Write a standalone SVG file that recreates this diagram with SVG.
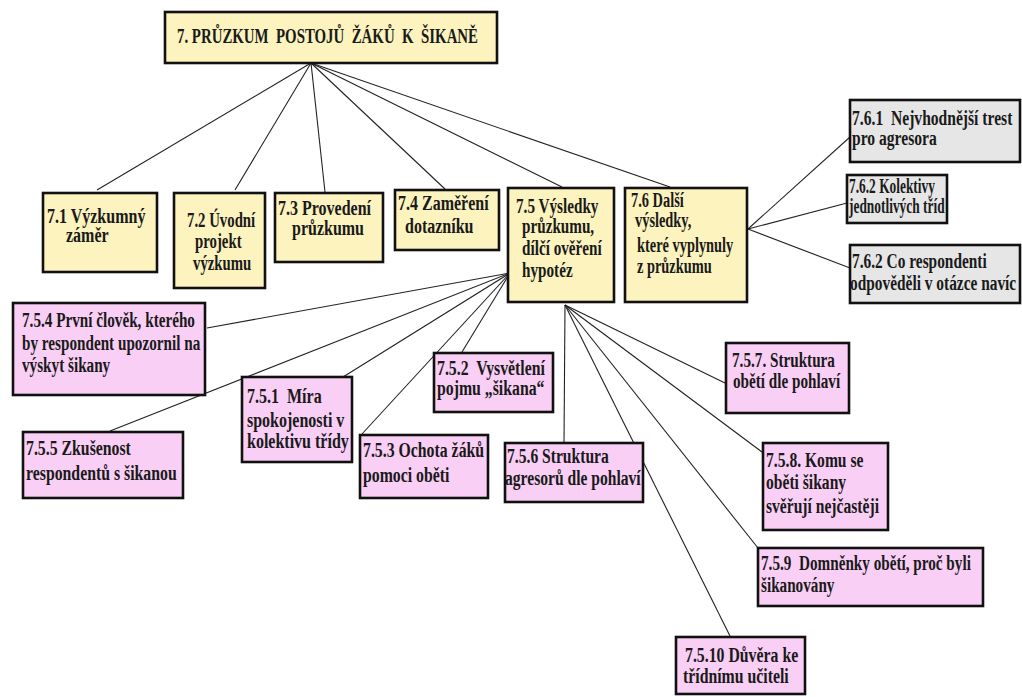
<svg xmlns="http://www.w3.org/2000/svg" width="1022" height="697" viewBox="0 0 1022 697">
<style>
.b{stroke:#111;stroke-width:2.6}
.y{fill:#FCF3BE}
.p{fill:#F9CFF6}
.g{fill:#E6E6E6}
text{font-family:"Liberation Serif","Times New Roman",serif;font-weight:bold;font-size:20px;fill:#1a1a1a}
#connectors line{stroke:#222;stroke-width:1.1}
</style>
<rect width="1022" height="697" fill="#fff"/>
<g id="connectors">
<line x1="311" y1="63" x2="97" y2="190"/>
<line x1="311" y1="63" x2="235" y2="190"/>
<line x1="311" y1="63" x2="325" y2="192"/>
<line x1="311" y1="63" x2="445" y2="189"/>
<line x1="311" y1="63" x2="562" y2="187"/>
<line x1="311" y1="63" x2="670" y2="187"/>
<line x1="748" y1="229" x2="850" y2="137"/>
<line x1="748" y1="229" x2="847" y2="203"/>
<line x1="748" y1="229" x2="850" y2="268"/>
<line x1="510" y1="273" x2="207" y2="328"/>
<line x1="510" y1="273" x2="110" y2="431"/>
<line x1="510" y1="273" x2="343" y2="377"/>
<line x1="510" y1="273" x2="362" y2="434"/>
<line x1="510" y1="273" x2="462" y2="352"/>
<line x1="565" y1="305" x2="564" y2="443"/>
<line x1="565" y1="305" x2="725" y2="383"/>
<line x1="565" y1="305" x2="762" y2="452"/>
<line x1="565" y1="305" x2="758" y2="548"/>
<line x1="565" y1="305" x2="730" y2="636"/>
</g>
<g id="n7"><rect class="b y" x="165" y="12" width="332" height="51"/><text x="177" y="43" font-size="21" textLength="301" lengthAdjust="spacingAndGlyphs" xml:space="preserve">7. PRŮZKUM  POSTOJŮ  ŽÁKŮ  K  ŠIKANĚ</text></g>
<g id="n71"><rect class="b y" x="43" y="193" width="114" height="79"/><text transform="translate(47 223) scale(.8 1)">7.1 Výzkumný</text><text transform="translate(66 242) scale(.8 1)">záměr</text></g>
<g id="n72"><rect class="b y" x="174" y="193" width="91" height="95"/><text transform="translate(187 227) scale(.74 1)">7.2 Úvodní</text><text transform="translate(195 248) scale(.74 1)">projekt</text><text transform="translate(193 270) scale(.74 1)">výzkumu</text></g>
<g id="n73"><rect class="b y" x="275" y="193" width="108" height="69"/><text transform="translate(278 215) scale(.8 1)">7.3 Provedení</text><text transform="translate(292 235) scale(.8 1)">průzkumu</text></g>
<g id="n74"><rect class="b y" x="395" y="190" width="104" height="60"/><text transform="translate(398 210) scale(.8 1)">7.4 Zaměření</text><text transform="translate(405 233) scale(.8 1)">dotazníku</text></g>
<g id="n75"><rect class="b y" x="508" y="188" width="106" height="114"/><text transform="translate(516 213) scale(.76 1)">7.5 Výsledky</text><text transform="translate(522 233) scale(.76 1)">průzkumu,</text><text transform="translate(522 255) scale(.76 1)">dílčí ověření</text><text transform="translate(522 277) scale(.76 1)">hypotéz</text></g>
<g id="n76"><rect class="b y" x="625" y="188" width="122" height="114"/><text transform="translate(631 207) scale(.72 1)">7.6 Další</text><text transform="translate(635 227) scale(.72 1)">výsledky,</text><text transform="translate(637 252) scale(.72 1)">které vyplynuly</text><text transform="translate(637 273) scale(.72 1)">z průzkumu</text></g>
<g id="n761"><rect class="b g" x="850" y="100" width="170" height="62"/><text transform="translate(852 125) scale(.78 1)" xml:space="preserve">7.6.1  Nejvhodnější trest</text><text transform="translate(852 145) scale(.78 1)">pro agresora</text></g>
<g id="n762a"><rect class="b g" x="847" y="175" width="100" height="48"/><text transform="translate(849 193) scale(.67 1)">7.6.2 Kolektivy</text><text transform="translate(849 213) scale(.67 1)">jednotlivých tříd</text></g>
<g id="n762b"><rect class="b g" x="850" y="245" width="170" height="58"/><text transform="translate(852 268) scale(.77 1)">7.6.2 Co respondenti</text><text transform="translate(850 290) scale(.77 1)">odpověděli v otázce navíc</text></g>
<g id="n754"><rect class="b p" x="13" y="303" width="192" height="92"/><text transform="translate(22 327) scale(.76 1)">7.5.4 První člověk, kterého</text><text transform="translate(22 350) scale(.76 1)">by respondent upozornil na</text><text transform="translate(22 372) scale(.76 1)">výskyt šikany</text></g>
<g id="n755"><rect class="b p" x="23" y="432" width="160" height="66"/><text transform="translate(26 455) scale(.79 1)">7.5.5 Zkušenost</text><text transform="translate(26 480) scale(.79 1)">respondentů s šikanou</text></g>
<g id="n751"><rect class="b p" x="242" y="377" width="110" height="85"/><text transform="translate(247 403) scale(.8 1)" xml:space="preserve">7.5.1  Míra</text><text transform="translate(247 427) scale(.8 1)">spokojenosti v</text><text transform="translate(247 448) scale(.8 1)">kolektivu třídy</text></g>
<g id="n752"><rect class="b p" x="434" y="353" width="119" height="59"/><text transform="translate(437 375) scale(.79 1)" xml:space="preserve">7.5.2  Vysvětlení</text><text transform="translate(437 395) scale(.79 1)">pojmu „šikana“</text></g>
<g id="n753"><rect class="b p" x="360" y="435" width="128" height="63"/><text transform="translate(363 457) scale(.79 1)">7.5.3 Ochota žáků</text><text transform="translate(363 482) scale(.79 1)">pomoci oběti</text></g>
<g id="n756"><rect class="b p" x="505" y="443" width="138" height="59"/><text transform="translate(507 463) scale(.78 1)">7.5.6 Struktura</text><text transform="translate(505 485) scale(.78 1)">agresorů dle pohlaví</text></g>
<g id="n757"><rect class="b p" x="726" y="343" width="123" height="70"/><text transform="translate(732 367) scale(.76 1)">7.5.7. Struktura</text><text transform="translate(733 388) scale(.76 1)">obětí dle pohlaví</text></g>
<g id="n758"><rect class="b p" x="763" y="443" width="125" height="87"/><text transform="translate(766 467) scale(.78 1)">7.5.8. Komu se</text><text transform="translate(766 489) scale(.78 1)">oběti šikany</text><text transform="translate(766 513) scale(.78 1)">svěřují nejčastěji</text></g>
<g id="n759"><rect class="b p" x="758" y="548" width="225" height="58"/><text transform="translate(761 570) scale(.76 1)" xml:space="preserve">7.5.9  Domněnky obětí, proč byli</text><text transform="translate(761 592) scale(.76 1)">šikanovány</text></g>
<g id="n7510"><rect class="b p" x="676" y="637" width="129" height="57"/><text transform="translate(685 662) scale(.79 1)">7.5.10 Důvěra ke</text><text transform="translate(683 683) scale(.79 1)">třídnímu učiteli</text></g>
</svg>
